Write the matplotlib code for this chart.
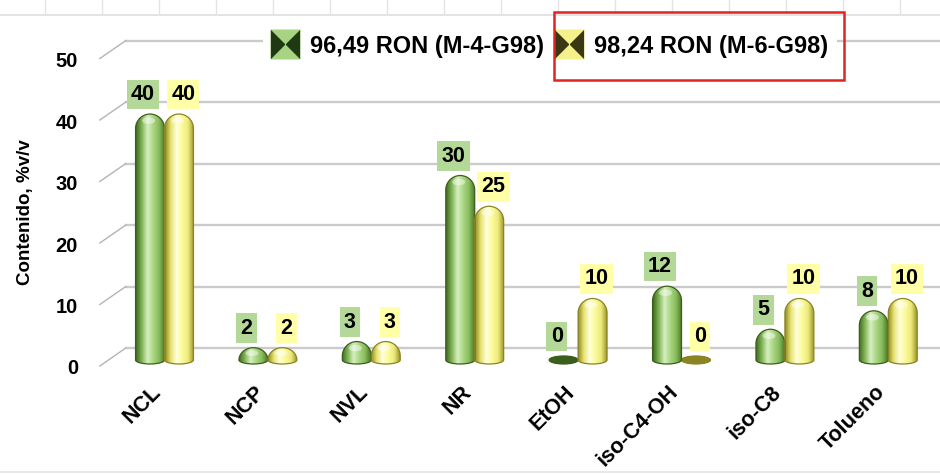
import numpy as np
import matplotlib
matplotlib.use("Agg")
import matplotlib.pyplot as plt
from matplotlib.path import Path
from matplotlib.patches import PathPatch, Rectangle, Ellipse
from matplotlib.colors import LinearSegmentedColormap
from matplotlib.lines import Line2D
from matplotlib.legend_handler import HandlerTuple
from matplotlib.transforms import ScaledTranslation

# Dados
categorias = ['NCL', 'NCP', 'NVL', 'NR', 'EtOH', 'iso-C4-OH', 'iso-C8', 'Tolueno']
ron_9649 = [40, 2, 3, 30, 0, 12, 5, 8]
ron_9824 = [40, 2, 3, 25, 10, 0, 10, 10]
series = ['96,49 RON (M-4-G98)', '98,24 RON (M-6-G98)']
yticks = [0, 10, 20, 30, 40, 50]

plt.rcParams['font.family'] = ['Liberation Sans', 'DejaVu Sans']

# cores: barra (gradiente), rótulo, ícone da legenda
grad_verde = LinearSegmentedColormap.from_list('gv', ['#3f6a1e', '#7fb455', '#d6efc0', '#a9d682', '#86bb5c', '#4b7624'])
grad_amarelo = LinearSegmentedColormap.from_list('ga', ['#8f8a22', '#e6e272', '#ffffdc', '#fbfa98', '#ecea7c', '#9d9628'])
cor_borda = ['#3c5e1c', '#8a8423']
cor_rotulo = ['#b3d898', '#ffffa8']

fig = plt.figure(figsize=(9.4, 4.75), dpi=100)
ax = fig.add_axes([0.120, 0.2227, 0.880, 0.7055])
ax.set_xlim(-0.5, 7.5)
ax.set_ylim(-1.5, 53)
for s in ax.spines.values():
    s.set_visible(False)

x = np.arange(len(categorias))
w = 0.28

# escala px por unidade (para as tampas arredondadas)
p0 = ax.transData.transform((0, 0))
p1 = ax.transData.transform((1, 1))
px_x = p1[0] - p0[0]
px_y = p1[1] - p0[1]
ry = (w / 2 * px_x) / px_y       # altura da tampa
rb = 4.0 / px_y                  # elipse da base
k = 0.5523


def capsula(x0, x1, v):
    xc = (x0 + x1) / 2
    a = (x1 - x0) / 2
    if v < rb:
        b, yc = rb, 0.0
    else:
        b = min(ry, v)
        yc = v - b
    verts = [(x0, 0), (x0, yc),
             (x0, yc + k * b), (xc - k * a, yc + b), (xc, yc + b),
             (xc + k * a, yc + b), (x1, yc + k * b), (x1, yc),
             (x1, 0),
             (x1, -k * rb), (xc + k * a, -rb), (xc, -rb),
             (xc - k * a, -rb), (x0, -k * rb), (x0, 0),
             (x0, 0)]
    codes = [Path.MOVETO, Path.LINETO] + [Path.CURVE4] * 6 + [Path.LINETO] + [Path.CURVE4] * 6 + [Path.CLOSEPOLY]
    return Path(verts, codes), b


gradiente = np.linspace(0, 1, 256).reshape(1, -1)
for i, (vals, cmap) in enumerate([(ron_9649, grad_verde), (ron_9824, grad_amarelo)]):
    desloc = -w / 2 if i == 0 else w / 2
    bars = ax.bar(x + desloc, vals, w, color='none', edgecolor='none')
    for rect, v in zip(bars, vals):
        rect.set_visible(False)
        x0 = rect.get_x()
        x1 = x0 + rect.get_width()
        caminho, b = capsula(x0, x1, v)
        patch = PathPatch(caminho, fc='none', ec=cor_borda[i], lw=0.9, zorder=3)
        ax.add_patch(patch)
        top = max(v, rb)
        im = ax.imshow(gradiente, cmap=cmap, extent=(x0, x1, -rb, top + 0.1),
                       aspect='auto', zorder=2, interpolation='bilinear')
        im.set_clip_path(patch)
        if v < rb:
            # barra nula: elipse escura
            patch.set_facecolor(cor_borda[i])
            patch.set_zorder(2.5)
        else:
            # brilho na tampa
            brilho = Ellipse((x0 + (x1 - x0) * 0.45, v - b * 0.45), (x1 - x0) * 0.45, b * 0.45,
                             fc='white', ec='none', alpha=0.45, zorder=2.6)
            ax.add_patch(brilho)
            brilho.set_clip_path(patch)
        ax.annotate(str(v), xy=(x0 + (x1 - x0) / 2, top), xytext=(-5 if i == 0 else 3, 6.5),
                    textcoords='offset points', ha='center', va='bottom',
                    fontsize=15.5, fontweight='bold', zorder=5,
                    bbox=dict(boxstyle='square,pad=0.2', fc=cor_rotulo[i], ec='none'))

ax.set_xlim(-0.5, 7.5)
ax.set_ylim(-1.5, 53)

# grade em perspectiva (plano de fundo + diagonal à esquerda)
off_fundo = 12 / px_y
off_frente = -6 / px_y
xa = (126 - 113) / 827
xb = (100 - 113) / 827
for t in yticks:
    ax.plot([xa, 1.0], [t + off_fundo] * 2, transform=ax.get_yaxis_transform(),
            color='#cbcbcb', lw=1.7, zorder=0, clip_on=False)
    ax.plot([xb, xa], [t + off_frente, t + off_fundo], transform=ax.get_yaxis_transform(),
            color='#b4b4b4', lw=1.0, zorder=0, clip_on=False)

ax.set_yticks(yticks)
ax.set_yticklabels([str(t) for t in yticks], fontsize=14.5, fontweight='bold')
ax.tick_params(axis='y', length=0, pad=25)
for lab in ax.get_yticklabels():
    lab.set_transform(lab.get_transform() + ScaledTranslation(0, -7 / 100, fig.dpi_scale_trans))

ax.set_xticks(x)
ax.set_xticklabels(categorias, rotation=45, ha='right', rotation_mode='anchor',
                   fontsize=15.5, fontweight='bold')
ax.tick_params(axis='x', length=0, pad=9)
for lab in ax.get_xticklabels():
    lab.set_transform(lab.get_transform() + ScaledTranslation(-14 / 100, 0, fig.dpi_scale_trans))

ax.set_ylabel('Contenido, %v/v', fontsize=13.5, fontweight='bold')
ax.yaxis.set_label_coords(-0.095, 0.469)

# legenda com ícones em "ampulheta"
ret = Path([(-1, -1), (1, -1), (1, 1), (-1, 1), (-1, -1)],
           [Path.MOVETO, Path.LINETO, Path.LINETO, Path.LINETO, Path.CLOSEPOLY])
laco = Path([(-1, -1), (0, 0), (-1, 1), (-1, -1), (1, -1), (0, 0), (1, 1), (1, -1)],
            [Path.MOVETO, Path.LINETO, Path.LINETO, Path.CLOSEPOLY,
             Path.MOVETO, Path.LINETO, Path.LINETO, Path.CLOSEPOLY])
h1 = (Line2D([], [], ls='none', marker=ret, ms=21, mfc='#a8d383', mec='none'),
      Line2D([], [], ls='none', marker=laco, ms=21, mfc='#1f3a12', mec='none'))
h2 = (Line2D([], [], ls='none', marker=ret, ms=21, mfc='#f4f08a', mec='none'),
      Line2D([], [], ls='none', marker=laco, ms=21, mfc='#3a3814', mec='none'))
leg = ax.legend([h1, h2], series, handler_map={tuple: HandlerTuple(ndivide=1)},
                loc='center', bbox_to_anchor=(0.585, 0.903), bbox_transform=fig.transFigure,
                ncol=2, frameon=True, facecolor='white', edgecolor='none', framealpha=1,
                fancybox=False, handlelength=1.1, handletextpad=0.5, columnspacing=0.5,
                prop=dict(weight='bold', size=17))
leg.set_zorder(6)

# destaque vermelho em volta da segunda série
fig.canvas.draw()
bb = leg.get_texts()[1].get_window_extent()
inv = fig.transFigure.inverted()
(fx0, fy0) = inv.transform((bb.x0 - 40, (bb.y0 + bb.y1) / 2 - 34))
(fx1, fy1) = inv.transform((bb.x1 + 16, (bb.y0 + bb.y1) / 2 + 34))
fig.add_artist(Rectangle((fx0, fy0), fx1 - fx0, fy1 - fy0, fill=False, ec='#e02424', lw=1.8, zorder=10))

# moldura clara no topo e em baixo
fig.add_artist(Line2D([0, 1], [1 - 15 / 475] * 2, color='#dedede', lw=1.2))
for xt in np.arange(45, 940, 57):
    fig.add_artist(Line2D([xt / 940] * 2, [1, 1 - 15 / 475], color='#e4e4e4', lw=1))
fig.add_artist(Line2D([0, 1], [1 - 472 / 475] * 2, color='#e8e8e8', lw=1.5))

fig.savefig('out.png', dpi=100)
